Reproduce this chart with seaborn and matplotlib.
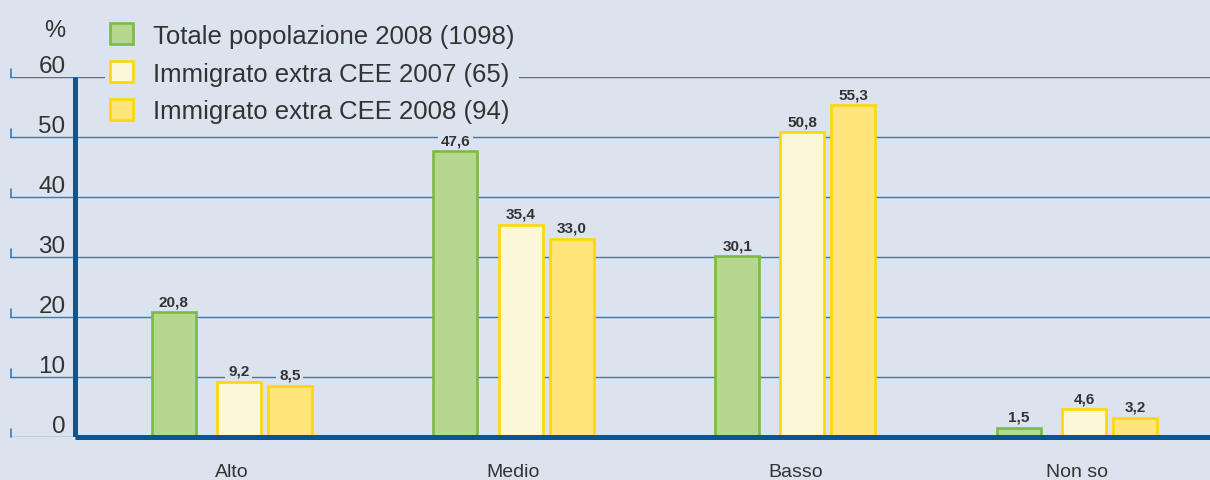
import matplotlib
matplotlib.use("Agg")
import matplotlib.pyplot as plt
import matplotlib.patches as mpatches
import seaborn as sns
import pandas as pd

categories = ["Alto", "Medio", "Basso", "Non so"]
series = ["Totale popolazione 2008 (1098)",
          "Immigrato extra CEE 2007 (65)",
          "Immigrato extra CEE 2008 (94)"]
totale_2008 = [20.8, 47.6, 30.1, 1.5]
immigrati_2007 = [9.2, 35.4, 50.8, 4.6]
immigrati_2008 = [8.5, 33.0, 55.3, 3.2]
yticks = [0, 10, 20, 30, 40, 50, 60]

fills = ["#b6d78f", "#fdf7d9", "#ffe57c"]
edges = ["#7bbb41", "#ffd800", "#ffd800"]
bg = "#dbe3ef"
grid_blue = "#3c78b0"
axis_blue = "#0b5592"
text_col = "#333333"

df = pd.DataFrame({
    "categoria": categories * 3,
    "serie": [series[0]] * 4 + [series[1]] * 4 + [series[2]] * 4,
    "valore": totale_2008 + immigrati_2007 + immigrati_2008,
})

sns.set_style("white")
plt.rcParams["font.family"] = ["Liberation Sans", "DejaVu Sans"]

fig = plt.figure(figsize=(12.1, 4.81), dpi=100, facecolor=bg)
ax = fig.add_axes([10 / 1210, 43 / 481, 1200 / 1210, 360 / 481])
ax.set_facecolor(bg)

sns.barplot(data=df, x="categoria", y="valore", hue="serie",
            hue_order=series, order=categories, palette=fills,
            saturation=1, width=0.468, legend=False, ax=ax, zorder=3)

# spacing between the bars in each group is not uniform
shifts = [-0.05, 0.025, 0.05]
for i, cont in enumerate(ax.containers):
    for bar in cont:
        bar.set_x(bar.get_x() + shifts[i])
        bar.set_edgecolor(edges[i])
        bar.set_linewidth(1.9)
        bar.set_zorder(3)
    ax.bar_label(cont, labels=[f"{v:.1f}".replace(".", ",") for v in cont.datavalues],
                 padding=3, fontsize=11, fontweight="bold", color=text_col,
                 family=["Liberation Sans Narrow", "Liberation Sans"],
                 bbox=dict(facecolor=bg, edgecolor="none", pad=2), zorder=4)

x_left = -0.787
x_axis = -0.557
ax.set_xlim(x_left, 3.472)
ax.set_ylim(0, 60)

for v in yticks:
    ax.axhline(v, color=grid_blue, lw=1.0, zorder=1)
    ax.plot([x_left + 0.004, x_left + 0.004], [v, v + 1.4], color=grid_blue,
            lw=1.2, zorder=1, clip_on=False)
    ax.text(-0.59, v + 0.8, str(v), ha="right", va="baseline", fontsize=17.5,
            color=text_col)

ax.plot([x_axis, x_axis], [0, 60], color=axis_blue, lw=3.6, zorder=5,
        solid_capstyle="butt")
ax.plot([x_axis, 3.472], [0, 0], color=axis_blue, lw=3.6, zorder=5,
        solid_capstyle="butt", clip_on=False)

for s in ax.spines.values():
    s.set_visible(False)
ax.set_yticks([])
ax.set_xticks(range(len(categories)))
ax.set_xticklabels(categories, fontsize=14, color=text_col)
ax.tick_params(axis="x", length=0, pad=19)
ax.set_xlabel("")
ax.set_ylabel("")

fig.text(55 / 1210, 1 - 31 / 481, "%", ha="center", va="center",
         fontsize=17, color=text_col)

handles = [mpatches.Patch(facecolor=fills[i], edgecolor=edges[i], lw=1.9)
           for i in range(3)]
leg = fig.legend(handles, series, loc="upper left",
                 bbox_to_anchor=(105 / 1210, 1 - 19 / 481),
                 frameon=True, facecolor=bg, edgecolor="none", framealpha=1,
                 fontsize=18.5, handlelength=0.9, handleheight=0.9,
                 handletextpad=0.75, labelspacing=0.52, borderpad=0.2,
                 borderaxespad=0, fancybox=False)
for t in leg.get_texts():
    t.set_color(text_col)
leg.set_zorder(10)

fig.savefig("out.png", dpi=100, facecolor=bg)
